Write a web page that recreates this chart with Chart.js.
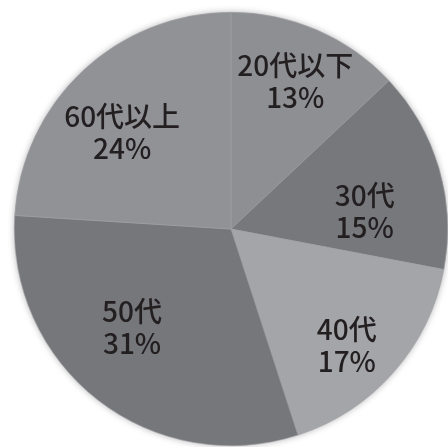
<!DOCTYPE html>
<html lang="ja">
<head>
<meta charset="utf-8">
<script src="https://cdn.jsdelivr.net/npm/chart.js@4/dist/chart.umd.min.js"></script>
<style>
  html, body { margin: 0; padding: 0; background: #fff; overflow: hidden; }
  #wrap { width: 448px; height: 447px; }
</style>
</head>
<body>
<div id="wrap"><canvas id="ageChart" width="448" height="447"></canvas></div>
<script>
//data
const ageLabels = ["20代以下", "30代", "40代", "50代", "60代以上"];
const ageShares = [13, 15, 17, 31, 24];

//slice colours (halftone greys)
const sliceColors = ["#8e8f93", "#77787c", "#a4a5a9", "#76777b", "#919296"];

//small nudges so each label sits where the print put it
const labelNudge = [
    {dx: 4, dy: -8},
    {dx: -12, dy: 25},
    {dx: 2, dy: 16},
    {dx: -6, dy: -21},
    {dx: -5, dy: 14}
];

//soft shadow under the whole pie
const pieShadow = {
    id: "pieShadow",
    beforeDatasetsDraw(chart) {
        const arc = chart.getDatasetMeta(0).data[0];
        if (!arc) return;
        const {x, y, outerRadius} = arc.getProps(["x", "y", "outerRadius"], true);
        const ctx = chart.ctx;
        ctx.save();
        ctx.shadowColor = "rgba(0,0,0,0.35)";
        ctx.shadowBlur = 7;
        ctx.fillStyle = "#8a8a8e";
        ctx.beginPath();
        ctx.arc(x, y, outerRadius - 0.5, 0, Math.PI * 2);
        ctx.fill();
        ctx.restore();
    }
};

//name + percent inside each slice
const sliceLabels = {
    id: "sliceLabels",
    afterDatasetsDraw(chart) {
        const ctx = chart.ctx;
        const meta = chart.getDatasetMeta(0);
        ctx.save();
        ctx.fillStyle = "#231f20";
        ctx.font = "500 28px 'Noto Sans CJK JP', 'Noto Sans', sans-serif";
        ctx.textAlign = "center";
        ctx.textBaseline = "middle";
        meta.data.forEach((arc, i) => {
            const p = arc.getProps(["x", "y", "startAngle", "endAngle", "outerRadius"], true);
            const mid = (p.startAngle + p.endAngle) / 2;
            const r = p.outerRadius * 0.7;
            const cx = p.x + Math.cos(mid) * r + labelNudge[i].dx;
            const cy = p.y + Math.sin(mid) * r + labelNudge[i].dy;
            ctx.fillText(ageLabels[i], cx, cy - 16);
            ctx.fillText(ageShares[i] + "%", cx, cy + 16);
        });
        ctx.restore();
    }
};

new Chart(document.getElementById("ageChart"), {
    type: "pie",
    data: {
        labels: ageLabels,
        datasets: [{
            data: ageShares,
            backgroundColor: sliceColors,
            borderColor: "#a2a3a7",
            borderWidth: 0.6
        }]
    },
    options: {
        responsive: false,
        animation: false,
        layout: {padding: {top: 12, bottom: 1, left: 14, right: 0}},
        plugins: {
            legend: {display: false},
            tooltip: {enabled: false}
        }
    },
    plugins: [pieShadow, sliceLabels]
});
</script>
</body>
</html>
